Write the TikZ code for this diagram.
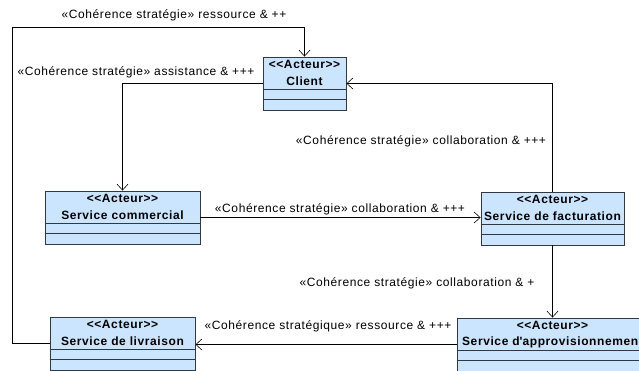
\documentclass[tikz,border=0pt]{standalone}
\usepackage{fontspec}
\setmainfont{Liberation Sans}[LetterSpace=5]
\usetikzlibrary{arrows.meta}
\definecolor{acteurfill}{RGB}{204,229,255}
\definecolor{acteurline}{RGB}{50,56,66}

\begin{document}
\begin{tikzpicture}[x=1pt,y=-1pt,
    acteur/.style={draw=acteurline, fill=acteurfill, line width=0.9pt, minimum height=53pt, inner sep=0pt},
    titre/.style={font=\fontsize{12}{14}\selectfont\bfseries, inner sep=0pt},
    sep/.style={draw=acteurline, line width=0.9pt},
    lien/.style={draw=black, line width=0.6pt, -{Straight Barb[length=6pt,width=11pt]}},
    etiq/.style={font=\fontsize{12}{14}\selectfont, inner sep=0pt}]
    \clip (0,0) rectangle (639,370);
    \fill[white] (0,0) rectangle (639,370);
    \node[acteur, minimum width=83pt] (cli) at (304.5,83.5) {};
    \node[acteur, minimum width=155pt] (com) at (122.5,217.5) {};
    \node[acteur, minimum width=143pt] (fac) at (552.5,218.5) {};
    \node[acteur, minimum width=145pt] (liv) at (122.5,343.5) {};
    \node[acteur, minimum width=191pt] (app) at (552.5,344.5) {};
    \foreach \n/\t in {cli/Client, com/Service commercial, fac/Service de facturation,
        liv/Service de livraison, app/Service d\textquotesingle approvisionnement} {
        \node[titre] (\n-st) at ([yshift=-8pt]\n.north) {<{}<Acteur>{}>};
        \node[titre] (\n-nom) at ([yshift=-25pt]\n.north) {\t};
        \draw[sep] ([yshift=21pt]\n.south west) -- ([yshift=21pt]\n.south east);
        \draw[sep] ([yshift=11pt]\n.south west) -- ([yshift=11pt]\n.south east);
    }
    \coordinate (coin) at (12,27);
    \draw[lien] (liv.west) -| (coin) -| (cli.north);
    \node[etiq] (e1) at (174,15) {«Cohérence stratégie» ressource \& ++};
    \draw[lien] (cli.west) -| (com.north);
    \node[etiq] (e2) at (136,72) {«Cohérence stratégie» assistance \& +++};
    \draw[lien] (fac.north) |- (cli.east);
    \node[etiq] (e3) at (421,141) {«Cohérence stratégie» collaboration \& +++};
    \draw[lien] (com.east) -- (com.east -| fac.west);
    \node[etiq] (e4) at (340,209) {«Cohérence stratégie» collaboration \& +++};
    \draw[lien] (fac.south) -- (app.north);
    \node[etiq] (e5) at (417,283) {«Cohérence stratégie» collaboration \& +};
    \draw[lien] (app.west) -- (app.west -| liv.east);
    \node[etiq] (e6) at (328,326) {«Cohérence stratégique» ressource \& +++};
\end{tikzpicture}
\end{document}
